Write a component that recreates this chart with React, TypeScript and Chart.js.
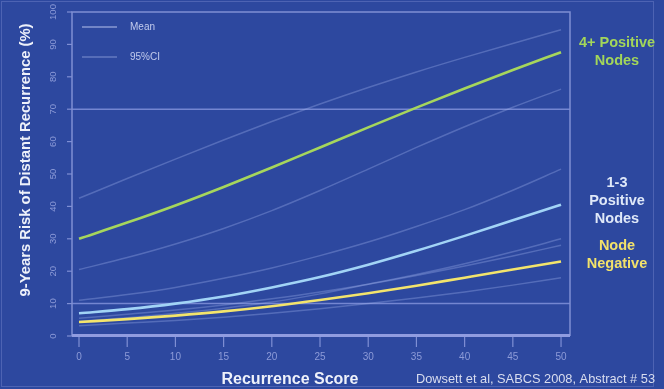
import React, { useEffect, useRef } from "react";
import { Chart, registerables } from "chart.js";

Chart.register(...registerables);

// Data
const scores = [0, 5, 10, 15, 20, 25, 30, 35, 40, 45, 50];
const pos4Mean = [30, 35, 40.3, 46, 52, 58.2, 64.4, 70.5, 76.4, 82.1, 87.6];
const pos4Upper = [42.5, 48.6, 54.6, 60.5, 66.2, 71.6, 76.7, 81.5, 86, 90.3, 94.5];
const pos4Lower = [20.5, 24.2, 28.4, 33.2, 38.7, 44.9, 51.5, 58.2, 64.6, 70.6, 76.2];
const pos13Mean = [7, 8.3, 10, 12.2, 15, 18.2, 22, 26.3, 30.9, 35.7, 40.5];
const pos13Upper = [11, 12.8, 15, 17.8, 21, 24.8, 29, 33.8, 39, 45, 51.5];
const pos13Lower = [4.5, 5.6, 7, 8.6, 10.5, 13, 16, 19, 22.3, 26, 30];
const negMean = [4.3, 5.2, 6.3, 7.6, 9.2, 11.1, 13.2, 15.5, 18, 20.5, 23];
const negUpper = [5.5, 6.7, 8, 9.6, 11.5, 13.6, 16, 18.7, 21.6, 24.7, 28];
const negLower = [3.2, 4, 4.8, 5.8, 7, 8.4, 10, 11.7, 13.6, 15.7, 18];

const xTicks = [0, 5, 10, 15, 20, 25, 30, 35, 40, 45, 50];
const yTicks = [0, 10, 20, 30, 40, 50, 60, 70, 80, 90, 100];
const gridValues = [10, 70];

const yTitle = "9-Years Risk of Distant Recurrence (%)";
const xTitle = "Recurrence Score";
const citation = "Dowsett et al, SABCS 2008, Abstract # 53";
const legendLabels = ["Mean", "95%CI"];
const groupLabels = [
  { lines: ["4+ Positive", "Nodes"], color: "#a3d65a", y: 43 },
  { lines: ["1-3", "Positive", "Nodes"], color: "#dfe8f8", y: 183 },
  { lines: ["Node", "Negative"], color: "#f2e26a", y: 246 },
];

const BG = "#2d489f";
const AXIS = "#7f8fd4";
const TICKTXT = "#8d9bd8";
const CI = "rgba(160,178,236,0.34)";

const pts = (arr: number[]) => scores.map((s, i) => ({ x: s, y: arr[i] }));

export default function App() {
  const ref = useRef<HTMLCanvasElement | null>(null);

  useEffect(() => {
    const canvas = ref.current;
    if (!canvas) return;

    const deco = {
      id: "deco",
      beforeDraw(chart: any) {
        const ctx = chart.ctx;
        ctx.save();
        ctx.fillStyle = BG;
        ctx.fillRect(0, 0, chart.width, chart.height);
        ctx.strokeStyle = "rgba(110,125,200,0.5)";
        ctx.lineWidth = 1;
        ctx.strokeRect(1.5, 1.5, 652, 385);
        ctx.restore();
      },
      beforeDatasetsDraw(chart: any) {
        const ctx = chart.ctx;
        const { left, right, top, bottom } = chart.chartArea;
        const xs = chart.scales.x;
        const ys = chart.scales.y;
        ctx.save();
        ctx.strokeStyle = "rgba(140,155,225,0.75)";
        ctx.lineWidth = 1.5;
        gridValues.forEach((v) => {
          const py = ys.getPixelForValue(v);
          ctx.beginPath();
          ctx.moveTo(left, py);
          ctx.lineTo(right, py);
          ctx.stroke();
        });
        ctx.strokeStyle = AXIS;
        ctx.lineWidth = 1.5;
        ctx.beginPath();
        ctx.moveTo(left, bottom);
        ctx.lineTo(left, top);
        ctx.lineTo(right, top);
        ctx.lineTo(right, bottom);
        ctx.stroke();
        ctx.strokeStyle = "#909ce0";
        ctx.lineWidth = 3;
        ctx.beginPath();
        ctx.moveTo(left, bottom - 0.5);
        ctx.lineTo(right, bottom - 0.5);
        ctx.stroke();
        ctx.strokeStyle = AXIS;
        ctx.lineWidth = 1.2;
        ctx.fillStyle = TICKTXT;
        ctx.font = "10px 'Liberation Sans', Arial, sans-serif";
        ctx.textAlign = "center";
        ctx.textBaseline = "middle";
        xTicks.forEach((v) => {
          const px = xs.getPixelForValue(v);
          ctx.beginPath();
          ctx.moveTo(px, bottom + 1);
          ctx.lineTo(px, bottom + 11);
          ctx.stroke();
          ctx.fillText(String(v), px, bottom + 21);
        });
        ctx.font = "9.5px 'Liberation Sans', Arial, sans-serif";
        yTicks.forEach((v) => {
          const py = ys.getPixelForValue(v);
          ctx.beginPath();
          ctx.moveTo(left - 5, py);
          ctx.lineTo(left, py);
          ctx.stroke();
          ctx.save();
          ctx.translate(left - 19, py);
          ctx.rotate(-Math.PI / 2);
          ctx.fillText(String(v), 0, 0);
          ctx.restore();
        });
        ctx.restore();
      },
      afterDraw(chart: any) {
        const ctx = chart.ctx;
        ctx.save();
        ctx.fillStyle = "#eef1fa";
        ctx.font = "bold 14.8px 'Liberation Sans', Arial, sans-serif";
        ctx.textAlign = "center";
        ctx.textBaseline = "middle";
        ctx.save();
        ctx.translate(26, 160);
        ctx.rotate(-Math.PI / 2);
        ctx.fillText(yTitle, 0, 0);
        ctx.restore();
        ctx.font = "bold 16px 'Liberation Sans', Arial, sans-serif";
        ctx.fillText(xTitle, 290, 380);
        ctx.fillStyle = "#d9ddef";
        ctx.font = "12.8px 'Liberation Sans', Arial, sans-serif";
        ctx.textAlign = "left";
        ctx.fillText(citation, 416, 379);
        ctx.font = "10px 'Liberation Sans', Arial, sans-serif";
        ctx.fillStyle = "#c2cbed";
        const legY = [27, 57];
        legendLabels.forEach((t, i) => {
          ctx.strokeStyle = i === 0 ? "rgba(200,210,245,0.6)" : "rgba(170,185,235,0.45)";
          ctx.lineWidth = 1.5;
          ctx.beginPath();
          ctx.moveTo(82, legY[i]);
          ctx.lineTo(117, legY[i]);
          ctx.stroke();
          ctx.fillText(t, 130, legY[i]);
        });
        ctx.font = "bold 14.5px 'Liberation Sans', Arial, sans-serif";
        ctx.textAlign = "center";
        groupLabels.forEach((g) => {
          ctx.fillStyle = g.color;
          g.lines.forEach((l, i) => ctx.fillText(l, 617, g.y + i * 17.8));
        });
        ctx.restore();
      },
    };

    const mean = (data: number[], color: string) => ({
      data: pts(data),
      borderColor: color,
      borderWidth: 2.6,
      pointRadius: 0,
      fill: false,
      cubicInterpolationMode: "monotone" as const,
      order: 0,
    });
    const ci = (data: number[]) => ({
      data: pts(data),
      borderColor: CI,
      borderWidth: 1.5,
      pointRadius: 0,
      fill: false,
      cubicInterpolationMode: "monotone" as const,
      order: 1,
    });

    const chart = new Chart(canvas, {
      type: "line",
      data: {
        datasets: [
          mean(pos4Mean, "#a6d65c"),
          mean(pos13Mean, "#a2d4f6"),
          mean(negMean, "#f3e46c"),
          ci(pos4Upper),
          ci(pos4Lower),
          ci(pos13Upper),
          ci(pos13Lower),
          ci(negUpper),
          ci(negLower),
        ],
      },
      options: {
        animation: false,
        responsive: false,
        devicePixelRatio: 1,
        layout: { padding: { left: 72, right: 94, top: 12, bottom: 53 } },
        plugins: { legend: { display: false }, tooltip: { enabled: false } },
        scales: {
          x: { type: "linear", min: -0.726, max: 50.93, display: false },
          y: { type: "linear", min: 0, max: 100, display: false },
        },
      },
      plugins: [deco],
    });
    return () => chart.destroy();
  }, []);

  return (
    <div style={{ position: "fixed", left: 0, top: 0, width: 664, height: 389 }}>
      <canvas ref={ref} width={664} height={389} style={{ display: "block" }} />
    </div>
  );
}
